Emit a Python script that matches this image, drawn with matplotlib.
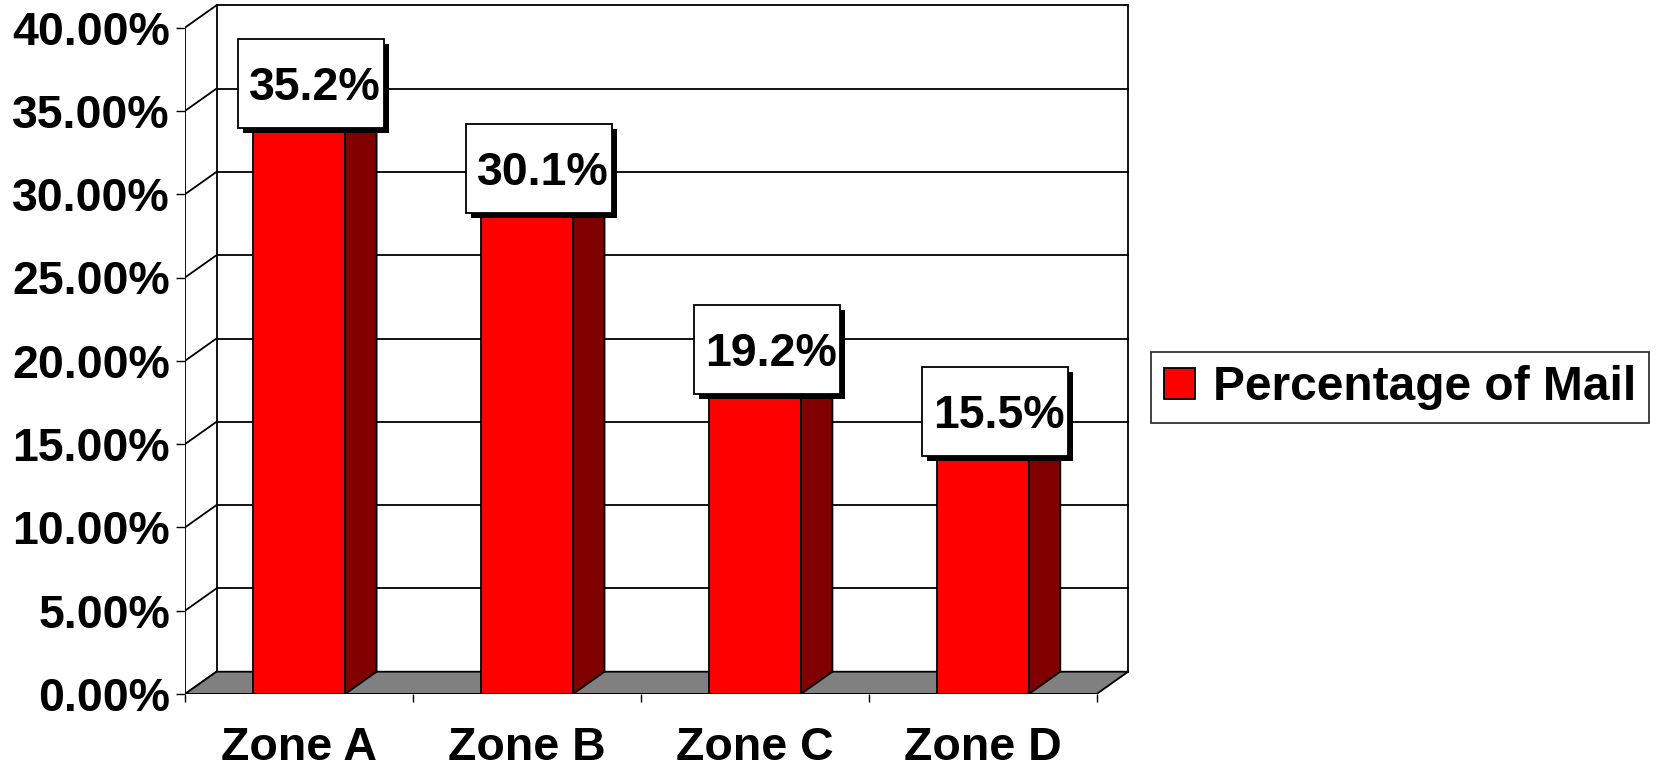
import matplotlib
matplotlib.use("Agg")
import matplotlib.pyplot as plt
from matplotlib.patches import Polygon, Rectangle, Patch

zones = ["Zone A", "Zone B", "Zone C", "Zone D"]
mail_pct = [35.2, 30.1, 19.2, 15.5]
yticks = [0, 5, 10, 15, 20, 25, 30, 35, 40]
ytick_labels = ["0.00%", "5.00%", "10.00%", "15.00%", "20.00%",
                "25.00%", "30.00%", "35.00%", "40.00%"]
series_name = "Percentage of Mail"

plt.rcParams["font.family"] = ["Liberation Sans", "DejaVu Sans"]
plt.rcParams["font.weight"] = "bold"
FS = 33.5

W, H = 1657, 767
fig = plt.figure(figsize=(W / 100, H / 100), dpi=100)

# pixel scale of the front plane
px_x = 227.9      # px per category
px_y = 16.66      # px per percent
x_max, y_max = 4.2, 41.6
ax = fig.add_axes([185 / W, 73 / H, x_max * px_x / W, y_max * px_y / H])
ax.set_xlim(0, x_max)
ax.set_ylim(0, y_max)
for s in ax.spines.values():
    s.set_visible(False)

# depth of the 3d box in data units
dx = 31.5 / px_x
dy = 22.3 / px_y
n = len(zones)
lw = 1.3

# back wall gridlines + left wall diagonals
for v in yticks:
    ax.plot([dx, n + dx], [v + dy, v + dy], color="black", lw=lw, zorder=1)
    ax.plot([0, dx], [v, v + dy], color="black", lw=lw, zorder=1)
ax.plot([dx, dx], [dy, 40 + dy], color="black", lw=lw, zorder=1)
ax.plot([n + dx, n + dx], [dy, 40 + dy], color="black", lw=lw, zorder=1)

# floor
ax.add_patch(Polygon([(0, 0), (n, 0), (n + dx, dy), (dx, dy)], closed=True,
                     facecolor="#808080", edgecolor="black", lw=lw, zorder=2))
# front axes lines
ax.plot([0, 0], [0, 40], color="black", lw=lw, zorder=2)
ax.plot([0, n], [0, 0], color="black", lw=lw, zorder=2)

# bars: front face via bar(), side and top faces as polygons
centers = [i + 0.5 for i in range(n)]
bw = 0.405
bars = ax.bar(centers, mail_pct, width=bw, color="#FF0000", edgecolor="black",
              lw=lw, zorder=3, label=series_name)
for c, v in zip(centers, mail_pct):
    r = c + bw / 2
    l = c - bw / 2
    ax.add_patch(Polygon([(r, 0), (r + dx, dy), (r + dx, v + dy), (r, v)],
                         closed=True, facecolor="#800000", edgecolor="black",
                         lw=lw, zorder=3))
    ax.add_patch(Polygon([(l, v), (r, v), (r + dx, v + dy), (l + dx, v + dy)],
                         closed=True, facecolor="#FF0000", edgecolor="black",
                         lw=lw, zorder=3))

# value labels in boxes with drop shadow
bx_w = 146 / px_x
bx_h = 89 / px_y
sh_x = 5 / px_x
sh_y = 5 / px_y
for c, v in zip(centers, mail_pct):
    cx = c + 12 / px_x
    cy = v + 24.5 / px_y
    ax.add_patch(Rectangle((cx - bx_w / 2 + sh_x, cy - bx_h / 2 - sh_y), bx_w, bx_h,
                           facecolor="black", edgecolor="black", lw=0, zorder=5))
    ax.add_patch(Rectangle((cx - bx_w / 2, cy - bx_h / 2), bx_w, bx_h,
                           facecolor="white", edgecolor="black", lw=lw, zorder=6))
    ax.text(cx + 4 / px_x, cy - 16.5 / px_y, f"{v:.1f}%", ha="center", va="baseline",
            fontsize=FS, fontweight="bold", zorder=7)

# ticks
ax.set_yticks(yticks)
ax.set_yticklabels(ytick_labels)
ax.set_xticks(range(n + 1))
ax.set_xticklabels([])
ax.set_xticks(centers, minor=True)
ax.set_xticklabels(zones, minor=True)
ax.tick_params(axis="y", direction="out", length=6.5, width=1, pad=4.3,
               labelsize=FS)
ax.tick_params(axis="x", which="major", direction="out", length=6, width=1)
ax.tick_params(axis="x", which="minor", length=0, pad=23, labelsize=FS)
for t in ax.get_yticklabels() + ax.get_xticklabels(minor=True):
    t.set_fontweight("bold")

# legend
handle = Patch(facecolor="#FF0000", edgecolor="black", lw=lw)
leg = fig.legend([handle], [series_name], loc="center",
                 bbox_to_anchor=(1400 / W, 1 - 387.7 / H),
                 fontsize=34.5, frameon=True, fancybox=False,
                 handlelength=0.64, handleheight=0.64, handletextpad=0.37,
                 borderpad=0.27, borderaxespad=0)
leg.get_frame().set_edgecolor("black")
leg.get_frame().set_linewidth(lw)
for t in leg.get_texts():
    t.set_fontweight("bold")

fig.savefig("out.png", dpi=100)
